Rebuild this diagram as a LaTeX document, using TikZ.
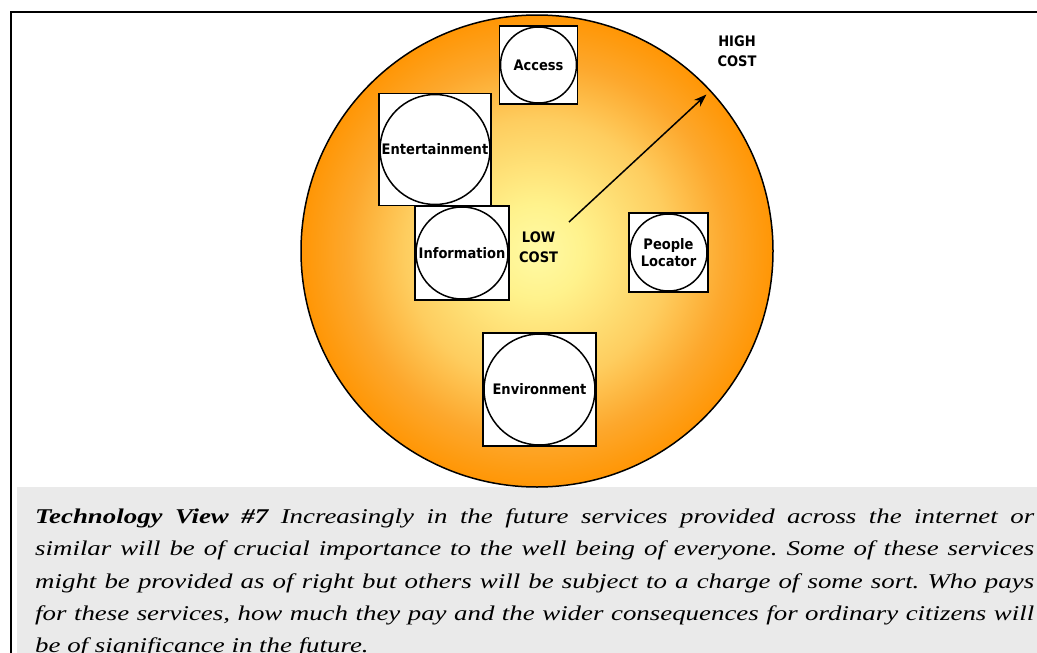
\documentclass[tikz,border=0pt]{standalone}
\usepackage{fontspec}
\usepackage{tikz}
\usetikzlibrary{positioning,arrows.meta,shadings}
\usepackage{xcolor}
\frenchspacing

\newfontfamily\labfont[FakeStretch=0.9]{DejaVu Sans}
\newfontfamily\capfont[FakeStretch=1.28]{Liberation Serif}

\definecolor{glowA}{RGB}{255,250,165}
\definecolor{glowB}{RGB}{255,242,140}
\definecolor{glowC}{RGB}{254,205,95}
\definecolor{glowD}{RGB}{253,168,45}
\definecolor{glowE}{RGB}{255,150,5}
\definecolor{capgray}{RGB}{234,234,234}
\pgfdeclareradialshading{glow}{\pgfpoint{0bp}{0bp}}{color(0bp)=(glowA); color(5bp)=(glowB); color(14bp)=(glowC); color(20bp)=(glowD); color(25bp)=(glowE); color(50bp)=(glowE)}

\begin{document}
\begin{tikzpicture}[
  x=1pt, y=-1pt,
  font=\labfont\bfseries\fontsize{14.5pt}{16.5pt}\selectfont,
  svcbox/.style={draw, line width=1.8pt, fill=white, minimum size=#1, inner sep=0pt},
  svc/.style={draw, circle, line width=1.5pt, fill=white, minimum size=#1, inner sep=0pt, align=center},
  cost/.style={align=center, inner sep=0pt, font=\labfont\bfseries\fontsize{14.5pt}{20pt}\selectfont},
  arr/.style={-{Stealth[length=13pt, width=9pt]}, line width=1.5pt},
  note/.style={anchor=north west, inner sep=0pt, text width=999pt, align=justify,
    font=\capfont\itshape\fontsize{21pt}{32.3pt}\selectfont},
]
\useasboundingbox (0,0) rectangle (1037,653);
\clip (0,0) rectangle (1037,653);
% frame and caption band
\fill[capgray] (16.5,487) rectangle (1045,660);
\draw[line width=2pt] (10.5,12) rectangle (1050,670);
% cost disc
\node[circle, draw, line width=1.5pt, minimum size=472pt, inner sep=0pt, shade, shading=glow] (disc) at (537,251) {};
% services
\node[svcbox=78pt] (accbox) at (538.5,65) {};
\node[svc=76pt] (acc) at (accbox) {Access};
\node[svcbox=112pt] (entbox) at (435,149.5) {};
\node[svc=110pt] (ent) at (entbox) {Entertainment};
\node[svcbox=94pt] (infobox) at (462,253) {};
\node[svc=92pt] (info) at (infobox) {Information};
\node[svcbox=79pt] (pplbox) at (668.5,252.5) {};
\node[svc=77pt] (ppl) at (pplbox) {People\\Locator};
\node[svcbox=113pt] (envbox) at (539.5,389.5) {};
\node[svc=111pt] (env) at (envbox) {Environment};
% low to high
\node[cost, right=9pt of infobox, yshift=6pt] (low) {LOW\\COST};
\node[cost] (high) at (737,51) {HIGH\\COST};
\coordinate (lowtip) at (569,222);
\coordinate (hightip) at (706.5,94.5);
\draw[arr] (lowtip) -- (hightip);
% caption
\node[note] (caption) at (35,508.5) {\textbf{Technology View \#7} Increasingly in the future services provided across the internet or\linebreak
similar will be of crucial importance to the well being of everyone. Some of these services\linebreak
might be provided as of right but others will be subject to a charge of some sort. Who pays\linebreak
for these services, how much they pay and the wider consequences for ordinary citizens will\linebreak
be of significance in the future.};
\end{tikzpicture}
\end{document}
